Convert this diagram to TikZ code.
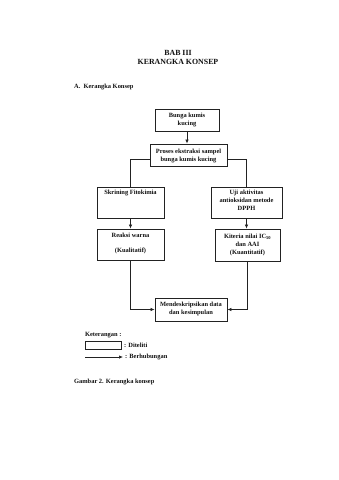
\documentclass[tikz,border=0pt]{standalone}
\usepackage{fontspec}
\setmainfont{Liberation Serif}
\usetikzlibrary{arrows.meta}
\usetikzlibrary{positioning}
\definecolor{kkink}{HTML}{111111}
\definecolor{kkline}{HTML}{222222}
\newcommand{\kkfont}{\fontsize{11.3}{14}\selectfont\bfseries}
\tikzset{
  kkbox/.style={
    draw=kkline, fill=white, line width=1.4pt, inner sep=0pt},
  kkarrow/.style={-{Latex[length=7pt, width=6pt]}, draw=kkline, line width=1.2pt},
  kkline/.style={draw=kkline, line width=1.2pt},
  kktext/.style={font=\kkfont, text=kkink, align=center, inner sep=0pt},
  kktitle/.style={font=\fontsize{13.8}{16}\selectfont\bfseries, text=kkink, inner sep=0pt},
  kklabel/.style={anchor=west, font=\kkfont, text=kkink, inner sep=0pt},
}

\begin{document}
\begin{tikzpicture}[x=1.755pt, y=-1.755pt]
\useasboundingbox[fill=white] (0, 0) rectangle (339, 480);

% Heading.
\node[kktitle] (bab) at (178, 53) {BAB III};
\node[kktitle] (judul) at (178, 62) {KERANGKA KONSEP};
\node[kklabel] (subjudul) at (74, 87) {A.~~Kerangka Konsep};

% Boxes of the concept frame.
\node[kkbox, minimum width=64*1.755pt, minimum height=22*1.755pt]
  (bunga) at (187, 120) {};
\node[kktext] at (187, 120) {Bunga kumis\\kucing};

\node[kkbox, minimum width=77*1.755pt, minimum height=22*1.755pt]
  (ekstraksi) at (188.5, 155) {};
\node[kktext] at (188.5, 156) {Proses ekstraksi sampel\\bunga kumis kucing};

\node[kkbox, minimum width=67*1.755pt, minimum height=31*1.755pt]
  (skrining) at (130.5, 202.5) {};
\node[kktext] at (130.5, 193) {Skrining Fitokimia};

\node[kkbox, minimum width=71*1.755pt, minimum height=31*1.755pt]
  (uji) at (246.5, 202.5) {};
\node[kktext] at (246.5, 200) {Uji aktivitas\\antioksidan metode\\DPPH};

\node[kkbox, minimum width=67*1.755pt, minimum height=31*1.755pt]
  (reaksi) at (130.5, 244.5) {};
\node[kktext] at (130.5, 243.5) {Reaksi warna\\[12pt](Kualitatif)};

\node[kkbox, minimum width=65*1.755pt, minimum height=32*1.755pt]
  (kriteria) at (247.5, 245) {};
\node[kktext] at (247.5, 245) {Kiteria nilai IC$_{\mathbf{50}}$\\dan AAI\\(Kuantitatif)};

\node[kkbox, minimum width=72*1.755pt, minimum height=23*1.755pt]
  (deskripsi) at (191, 309.5) {};
\node[kktext] at (191, 309) {Mendeskripsikan data\\dan kesimpulan};

% Connectors.
\draw[kkarrow] (bunga.south) -- (bunga.south |- ekstraksi.north);
\draw[kkline] ([yshift=-8pt]ekstraksi.west) -| (skrining.north);
\draw[kkline] ([yshift=-8pt]ekstraksi.east) -| (uji.north);
\draw[kkarrow] (skrining.south) -- (reaksi.north);
\draw[kkarrow] (uji.south) -- (uji.south |- kriteria.north);
\draw[kkarrow] (reaksi.south) |- (deskripsi.west);
\draw[kkarrow] (kriteria.south) |- (deskripsi.east);

% Legend.
\node[kklabel] (keterangan) at (85, 335) {Keterangan :};
\node[kkbox, minimum width=36*1.755pt, minimum height=8*1.755pt]
  (legbox) at (103, 345.5) {};
\node[kklabel] (diteliti) at (124, 345.5) {: Diteliti};
\coordinate (legstart) at (85, 357);
\coordinate (legend) at (123, 357);
\draw[kkarrow] (legstart) -- (legend);
\node[kklabel] (hubung) at (125, 357) {: Berhubungan};

% Caption.
\node[kklabel] (gambar) at (74, 382) {Gambar 2. Kerangka konsep};

\end{tikzpicture}
\end{document}
